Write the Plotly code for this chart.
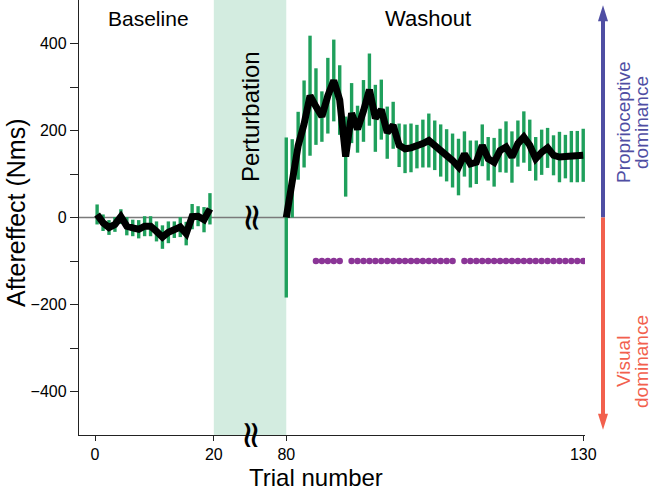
import plotly.graph_objects as go

# ---------------- data ----------------
baseline_trials = list(range(1, 21))
baseline_mean = [7, -12, -23, -16, 2, -20, -24, -27, -20, -20,
                 -32, -45, -34, -28, -22, -37, 2, 3, -5, 20]
baseline_err = [23, 19, 17, 17, 17, 21, 19, 21, 23, 23,
                23, 27, 25, 19, 23, 27, 29, 23, 29, 36]

washout_trials = list(range(80, 131))
washout_mean = [0, 90, 165, 215, 280, 255, 232, 280, 315, 270,
                140, 240, 203, 245, 294, 228, 248, 195, 212, 166,
                158, 160, 163, 170, 177, 166, 154, 143, 131, 116,
                146, 123, 127, 166, 135, 127, 154, 162, 139, 170,
                185, 166, 135, 150, 160, 143, 139, 140, 140, 140,
                143]
washout_err = [184, 90, 78, 100, 138, 88, 58, 87, 94, 80,
               92, 69, 54, 71, 83, 77, 69, 60, 54, 50,
               56, 56, 50, 55, 62, 57, 60, 60, 62, 65,
               52, 54, 50, 48, 50, 56, 50, 59, 59, 53,
               59, 59, 50, 52, 46, 46, 58, 50, 59, 59,
               61]

sig_trials = list(range(85, 90)) + list(range(91, 109)) + list(range(110, 131))
sig_level = -100

x_tick_trials = [0, 20, 80, 130]
x_tick_labels = ["0", "20", "80", "130"]
y_tick_vals = [-400, -300, -200, -100, 0, 100, 200, 300, 400]
y_tick_labels = ["\u2212400", "", "\u2212200", "", "0", "", "200", "", "400"]

# ---------------- styling / broken-axis mapping ----------------
BASE_SHIFT = -0.65      # baseline trials drawn slightly left of integer
WASH_SHIFT = -47.8      # trial 80 -> 32.2 on the compressed axis
GAP_LO, GAP_HI = 20, 80 + WASH_SHIFT

GREEN = "#1FA05C"
SHADE = "#D3ECE0"
PURPLE = "#8B3597"
BLUE = "#4F4EA3"
RED = "#F2604D"
FONT = "Liberation Sans, Arial, Helvetica, sans-serif"

L, R, T, B = 79, 68, 0, 56
W, H = 653, 491
PW, PH = W - L - R, H - T - B
PXU = 5.94  # pixels per x unit
YPU = PH / 1000.0  # pixels per y unit


def px2x(px):
    return (px - 95) / PXU


def px2y(py):
    return 500 - py / YPU


def px2paper_x(px):
    return (px - L) / PW


def py2paper_y(py):
    return 1 - (py - T) / PH


bx = [t + BASE_SHIFT for t in baseline_trials]
wx = [t + WASH_SHIFT for t in washout_trials]
sx = [t + WASH_SHIFT for t in sig_trials]
tickvals_x = [x_tick_trials[0], x_tick_trials[1],
              x_tick_trials[2] + WASH_SHIFT, x_tick_trials[3] + WASH_SHIFT]

fig = go.Figure()

for xs, ys, es in [(bx, baseline_mean, baseline_err), (wx, washout_mean, washout_err)]:
    fig.add_trace(go.Scatter(
        x=xs, y=ys, mode="markers",
        marker=dict(size=1, color="rgba(0,0,0,0)"),
        error_y=dict(type="data", array=es, color=GREEN, thickness=3.4, width=0),
        showlegend=False, hoverinfo="skip", cliponaxis=False))

for xs, ys in [(bx, baseline_mean), (wx, washout_mean)]:
    fig.add_trace(go.Scatter(
        x=xs, y=ys, mode="lines",
        line=dict(color="black", width=7),
        showlegend=False))

fig.add_trace(go.Scatter(
    x=sx, y=[sig_level] * len(sx), mode="markers",
    marker=dict(size=6.5, color=PURPLE),
    showlegend=False))

# dominance arrow geometry
ax_p = px2paper_x(603)
half_w = 5.0 / PW
tip_top, tip_bot = 488, -488
head_len = 16 / YPU

shapes = [
    dict(type="rect", xref="x", yref="paper", x0=GAP_LO, x1=GAP_HI, y0=0, y1=1,
         fillcolor=SHADE, line=dict(width=0), layer="below"),
    dict(type="line", xref="paper", yref="y", x0=0, x1=1, y0=0, y1=0,
         line=dict(color="#7a7a7a", width=1.6), layer="below"),
    dict(type="line", xref="paper", yref="y", x0=ax_p, x1=ax_p, y0=0, y1=tip_top - head_len + 2,
         line=dict(color=BLUE, width=4)),
    dict(type="line", xref="paper", yref="y", x0=ax_p, x1=ax_p, y0=0, y1=tip_bot + head_len - 2,
         line=dict(color=RED, width=4)),
    dict(type="path", xref="paper", yref="y",
         path=f"M {ax_p - half_w} {tip_top - head_len} L {ax_p} {tip_top} L {ax_p + half_w} {tip_top - head_len} Z",
         fillcolor=BLUE, line=dict(width=0)),
    dict(type="path", xref="paper", yref="y",
         path=f"M {ax_p - half_w} {tip_bot + head_len} L {ax_p} {tip_bot} L {ax_p + half_w} {tip_bot + head_len} Z",
         fillcolor=RED, line=dict(width=0)),
]

ann = []
# axis-break marks
brk_x = (GAP_LO + GAP_HI) / 2
for yv, yr in [(0, "y"), (0, "paper")]:
    ann.append(dict(x=brk_x, y=yv, xref="x", yref=yr, text="\u2248", showarrow=False,
                    textangle=-90, font=dict(size=38, color="black", family="DejaVu Sans"),
                    xanchor="center", yanchor="middle"))
# region labels
ann.append(dict(x=px2x(148), y=px2y(18), xref="x", yref="y", text="Baseline",
                showarrow=False, xanchor="center", yanchor="middle",
                font=dict(size=21, color="black", family=FONT)))
ann.append(dict(x=px2x(428), y=px2y(18), xref="x", yref="y", text="Washout",
                showarrow=False, xanchor="center", yanchor="middle",
                font=dict(size=22, color="black", family=FONT)))
ann.append(dict(x=brk_x, y=px2y(117), xref="x", yref="y", text="Perturbation",
                showarrow=False, textangle=-90, xanchor="center", yanchor="middle",
                font=dict(size=24, color="black", family=FONT)))
for txt, pxx, pyy, col in [("Proprioceptive", 623, 123, BLUE), ("dominance", 641, 123, BLUE),
                           ("Visual", 623, 362, RED), ("dominance", 641, 362, RED)]:
    ann.append(dict(x=px2paper_x(pxx), y=px2y(pyy), xref="paper", yref="y", text=txt,
                    showarrow=False, textangle=-90, xanchor="center", yanchor="middle",
                    font=dict(size=19, color=col, family=FONT)))
# axis titles
ann.append(dict(x=px2paper_x(16), y=py2paper_y(213), xref="paper", yref="paper",
                text="Aftereffect (Nms)", showarrow=False, textangle=-90,
                xanchor="center", yanchor="middle",
                font=dict(size=25, color="black", family=FONT)))
ann.append(dict(x=px2paper_x(316), y=py2paper_y(478), xref="paper", yref="paper",
                text="Trial number", showarrow=False, xanchor="center", yanchor="middle",
                font=dict(size=24, color="black", family=FONT)))

fig.update_layout(
    width=W, height=H,
    margin=dict(l=L, r=R, t=T, b=B),
    plot_bgcolor="white", paper_bgcolor="white",
    shapes=shapes, annotations=ann,
    font=dict(family=FONT, color="black"),
    xaxis=dict(range=[-2.7, 82.5], tickvals=tickvals_x, ticktext=x_tick_labels,
               ticks="outside", ticklen=5, tickwidth=1.2, tickcolor="#222",
               showline=True, linecolor="#222", linewidth=1.3,
               showgrid=False, zeroline=False, tickfont=dict(size=16)),
    yaxis=dict(range=[-500, 500], tickvals=y_tick_vals, ticktext=y_tick_labels,
               ticks="outside", ticklen=8, tickwidth=1.2, tickcolor="#222",
               showline=True, linecolor="#222", linewidth=1.3,
               showgrid=False, zeroline=False, tickfont=dict(size=16)),
)

fig.write_html("out.html", config={"displayModeBar": False},
               post_script="document.body.style.margin='0';")
